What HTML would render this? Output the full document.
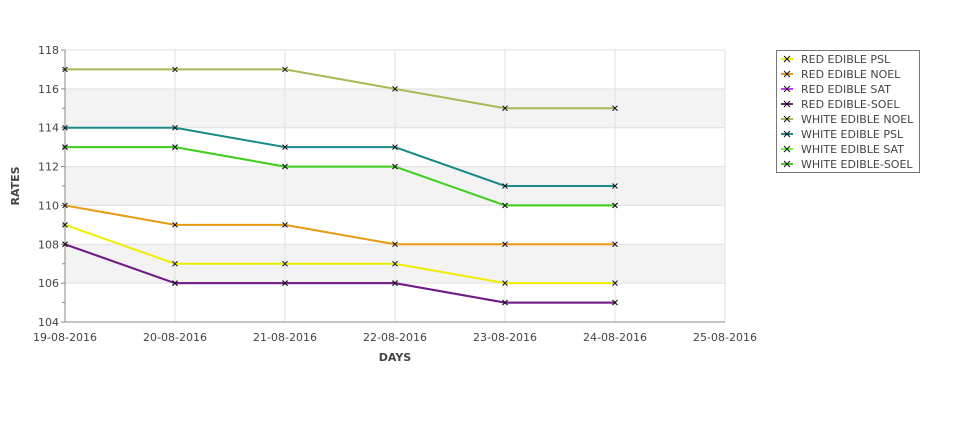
<!DOCTYPE html>
<html><head><meta charset="utf-8"><style>
body{margin:0;background:#fff;width:975px;height:429px;overflow:hidden;font-family:"DejaVu Sans","Liberation Sans",sans-serif}
svg text{font-family:"DejaVu Sans","Liberation Sans",sans-serif;fill:#444;font-size:11px}
</style></head><body>
<svg width="975" height="429" id="c"></svg>
<script>
const categories=["19-08-2016","20-08-2016","21-08-2016","22-08-2016","23-08-2016","24-08-2016","25-08-2016"];
const yTicks=[104,106,108,110,112,114,116,118];
const seriesNames=["RED EDIBLE  PSL","RED EDIBLE NOEL","RED EDIBLE SAT","RED EDIBLE-SOEL","WHITE EDIBLE NOEL","WHITE EDIBLE PSL","WHITE EDIBLE SAT","WHITE EDIBLE-SOEL"];
const seriesColors=["#eeee00","#e89a10","#cc33ff","#6e2080","#aab855","#1a8a8a","#66ff33","#44cc22"];
const redPsl=[109,107,107,107,106,106];
const redNoel=[110,109,109,108,108,108];
const redSat=[108,106,106,106,105,105];
const redSoel=[108,106,106,106,105,105];
const whiteNoel=[117,117,117,116,115,115];
const whitePsl=[114,114,113,113,111,111];
const whiteSat=[113,113,112,112,110,110];
const whiteSoel=[113,113,112,112,110,110];
const seriesValues=[redPsl,redNoel,redSat,redSoel,whiteNoel,whitePsl,whiteSat,whiteSoel];
const drawOrder=[2,6,0,1,3,4,5,7];
const svg=document.getElementById('c');const NS='http://www.w3.org/2000/svg';
const L=65,R=725,T=50,B=322,ymin=104,ymax=118;
const xs=i=>L+i*(R-L)/(categories.length-1);
const ys=v=>B-(v-ymin)*(B-T)/(ymax-ymin);
function mk(t,a,p){const e=document.createElementNS(NS,t);for(const k in a)e.setAttribute(k,a[k]);(p||svg).appendChild(e);return e;}
// bands
for(let i=0;i<yTicks.length-1;i++){if(i%2===0)continue;const b=mk('rect',{x:L,y:ys(yTicks[i+1]),width:R-L,height:ys(yTicks[i])-ys(yTicks[i+1]),fill:i%2?'#f3f3f3':'#fff'});

}
yTicks.forEach(v=>{const g=mk('line',{x1:L,x2:R,y1:ys(v),y2:ys(v),stroke:'#e0e0e0'});


mk('line',{x1:L-4,x2:L,y1:ys(v),y2:ys(v),stroke:'#888'});
const t=mk('text',{x:L-6,y:ys(v)+4,'text-anchor':'end'});t.textContent=v;


if(v<ymax)mk('line',{x1:L-3,x2:L,y1:ys(v+1),y2:ys(v+1),stroke:'#888'});});
categories.forEach((c,i)=>{const g=mk('line',{x1:xs(i),x2:xs(i),y1:T,y2:B,stroke:'#e0e0e0'});


const t=mk('text',{x:xs(i),y:B+19,'text-anchor':'middle'});t.textContent=c;

});
mk('line',{x1:L,x2:L,y1:T,y2:B,stroke:'#888'});mk('line',{x1:L,x2:R,y1:B,y2:B,stroke:'#888'});
const xt=mk('text',{x:395,y:361,'text-anchor':'middle','font-weight':'bold'});xt.textContent='DAYS';

const yt=mk('text',{x:19,y:186,'text-anchor':'middle','font-weight':'bold',transform:'rotate(-90 19 186)'});yt.textContent='RATES';

drawOrder.forEach(s=>{const vals=seriesValues[s];
const pl=mk('polyline',{points:vals.map((v,i)=>xs(i)+','+ys(v)).join(' '),fill:'none',stroke:seriesColors[s],'stroke-width':2});


vals.forEach((v,i)=>{const x=xs(i),y=ys(v);mk('path',{d:`M${x-2.5},${y-2.5}L${x+2.5},${y+2.5}M${x-2.5},${y+2.5}L${x+2.5},${y-2.5}`,stroke:'#111','stroke-width':1});});});
// legend
const lg=mk('rect',{x:776.5,y:50.5,width:143,height:122,fill:'#fff',stroke:'#777'});

seriesNames.forEach((n,i)=>{const y=59+i*15;
mk('line',{x1:781,x2:793,y1:y,y2:y,stroke:seriesColors[i],'stroke-width':2});
mk('path',{d:`M${784},${y-3}L${790},${y+3}M${784},${y+3}L${790},${y-3}`,stroke:'#111'});
const t=mk('text',{x:801,y:y+4});t.textContent=n;

});
</script></body></html>
